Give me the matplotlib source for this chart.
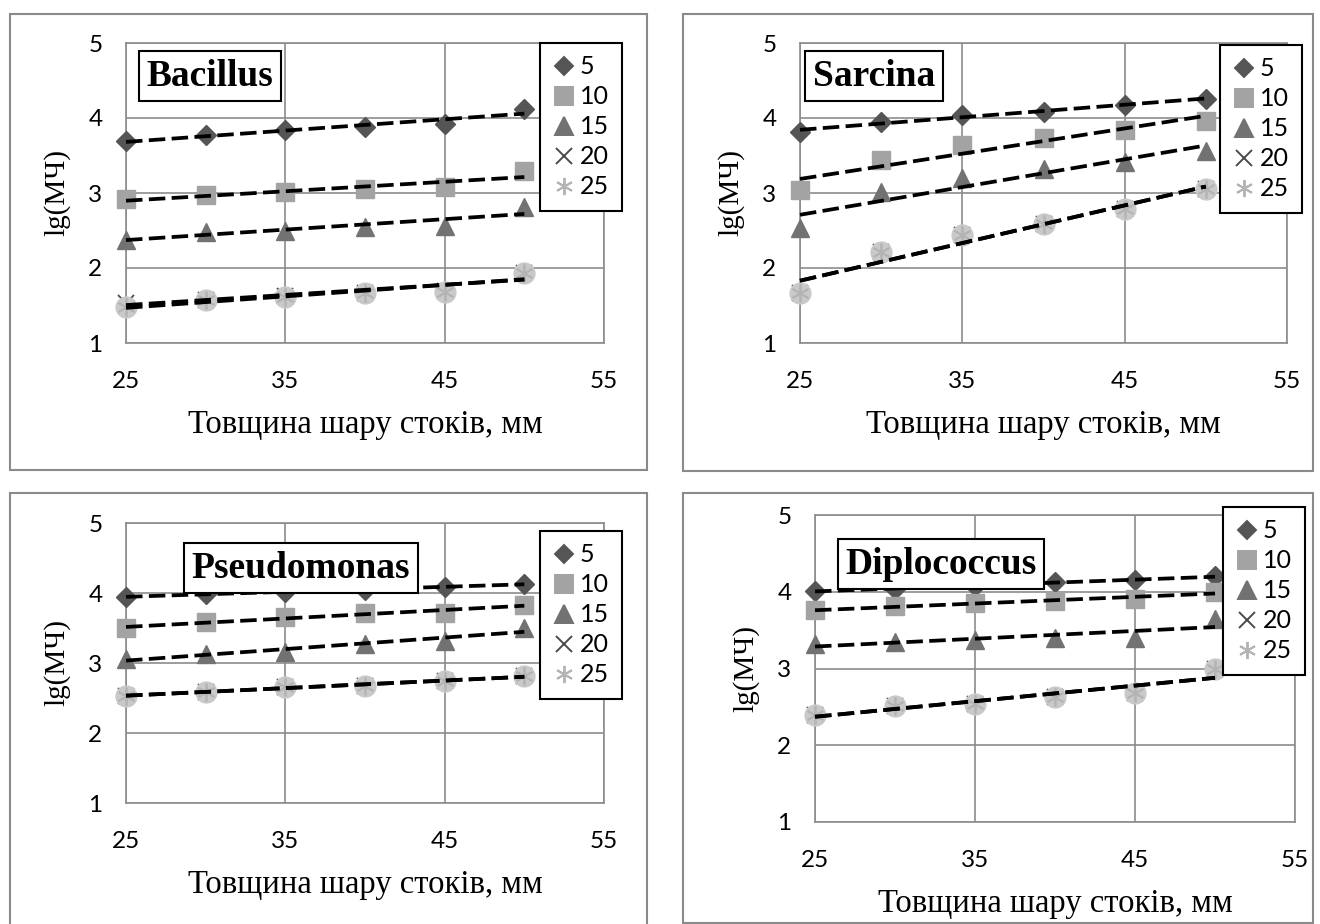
import matplotlib
matplotlib.use("Agg")
import matplotlib.pyplot as plt
from matplotlib.lines import Line2D
from matplotlib.patches import Rectangle
import numpy as np

# товщина шару стоків, мм
thickness = [25, 30, 35, 40, 45, 50]
doses = ["5", "10", "15", "20", "25"]

# lg(МЧ) для кожної дози (рядки: 5, 10, 15, 20, 25)
bacillus = [
    [3.69, 3.77, 3.84, 3.88, 3.92, 4.12],
    [2.92, 2.97, 3.02, 3.05, 3.08, 3.29],
    [2.38, 2.48, 2.50, 2.55, 2.56, 2.81],
    [1.54, 1.58, 1.63, 1.67, 1.69, 1.94],
    [1.48, 1.57, 1.62, 1.67, 1.68, 1.94],
]
sarcina = [
    [3.81, 3.95, 4.04, 4.08, 4.18, 4.25],
    [3.04, 3.44, 3.64, 3.73, 3.84, 3.96],
    [2.53, 3.01, 3.20, 3.32, 3.41, 3.56],
    [1.67, 2.21, 2.44, 2.59, 2.79, 3.05],
    [1.67, 2.21, 2.44, 2.59, 2.79, 3.05],
]
pseudomonas = [
    [3.94, 3.99, 4.02, 4.05, 4.08, 4.13],
    [3.50, 3.58, 3.66, 3.71, 3.72, 3.83],
    [3.06, 3.13, 3.16, 3.27, 3.32, 3.50],
    [2.53, 2.59, 2.66, 2.67, 2.75, 2.81],
    [2.53, 2.59, 2.66, 2.67, 2.75, 2.81],
]
diplococcus = [
    [4.01, 4.04, 4.07, 4.13, 4.15, 4.20],
    [3.76, 3.81, 3.85, 3.88, 3.91, 4.00],
    [3.32, 3.35, 3.37, 3.40, 3.40, 3.64],
    [2.40, 2.51, 2.54, 2.63, 2.68, 2.99],
    [2.40, 2.51, 2.54, 2.63, 2.68, 2.99],
]

W, H = 1320, 924
fig = plt.figure(figsize=(W / 100, H / 100), dpi=100)

SANS = ["Lato", "DejaVu Sans"]
SERIF = ["Liberation Serif", "DejaVu Serif"]
GRID = "#8c8c8c"


def fbox(x0, y0, x1, y1):
    return [x0 / W, 1 - y1 / H, (x1 - x0) / W, (y1 - y0) / H]


# (назва, дані, рамка панелі, область графіка, центр підпису, верх легенди)
panels = [
    ("Bacillus", bacillus, (10, 14, 647, 470), (126, 43, 604, 343), (210, 76), (540, 43)),
    ("Sarcina", sarcina, (683, 14, 1313, 471), (800, 43, 1287, 343), (874, 76), (1220, 45)),
    ("Pseudomonas", pseudomonas, (10, 493, 647, 940), (126, 523, 604, 803), (301, 568), (540, 531)),
    ("Diplococcus", diplococcus, (683, 493, 1313, 923), (815, 515, 1295, 822), (941, 564), (1223, 507)),
]

styles = [
    dict(marker="D", color="#555555", ms=10),
    dict(marker="s", color="#a3a3a3", ms=13),
    dict(marker="^", color="#727272", ms=13),
    dict(marker="x", color="#4a4a4a", ms=12),
    dict(marker=(6, 2, 0), color="#b4b4b4", ms=13),
]

x = np.array(thickness, dtype=float)

for name, data, frame, area, title_xy, leg_xy in panels:
    fig.patches.append(Rectangle((frame[0] / W, 1 - frame[3] / H),
                                 (frame[2] - frame[0]) / W, (frame[3] - frame[1]) / H,
                                 transform=fig.transFigure, fill=False,
                                 edgecolor="#8a8a8a", lw=1.5, zorder=0))
    ax = fig.add_axes(fbox(*area))
    ax.set_xlim(25, 55)
    ax.set_ylim(1, 5)
    ax.set_xticks([25, 35, 45, 55])
    ax.set_yticks([1, 2, 3, 4, 5])
    ax.grid(True, color=GRID, lw=1.2)
    ax.set_axisbelow(True)
    for s in ax.spines.values():
        s.set_color(GRID)
        s.set_linewidth(1.2)
    ax.tick_params(length=0, labelsize=17.5)
    ax.tick_params(axis="x", pad=20)
    ax.tick_params(axis="y", pad=17)
    for lbl in ax.get_xticklabels() + ax.get_yticklabels():
        lbl.set_family(SANS)

    handles = []
    for i, (vals, st) in enumerate(zip(data, styles)):
        y = np.array(vals)
        if i == 4:
            # світле коло під зірочкою
            ax.plot(x, y, ls="none", marker="o", ms=15, mfc="#c9c9c9",
                    mec="#c9c9c9", zorder=3, clip_on=False)
        if st["marker"] == "x" or i == 4:
            ax.plot(x, y, ls="none", marker=st["marker"], ms=st["ms"],
                    color=st["color"], mew=1.3, zorder=3, clip_on=False)
        else:
            ax.plot(x, y, ls="none", marker=st["marker"], ms=st["ms"],
                    mfc=st["color"], mec=st["color"], zorder=3, clip_on=False)
        handles.append(Line2D([], [], ls="none", marker=st["marker"],
                              ms=st["ms"] * 0.95, color=st["color"],
                              mfc=st["color"], mec=st["color"], mew=1.4,
                              label=doses[i]))

    # лінійні тренди
    for vals in data:
        k, b = np.polyfit(x, vals, 1)
        ax.plot(x[[0, -1]], k * x[[0, -1]] + b, color="black", lw=2.7,
                dashes=(4.4, 1.7), zorder=4, clip_on=False)

    ax.set_xlabel("Товщина шару стоків, мм", family=SERIF, fontsize=23.5,
                  labelpad=13)
    ax.set_ylabel("lg(МЧ)", family=SERIF, fontsize=21, labelpad=13)

    fig.text(title_xy[0] / W, 1 - title_xy[1] / H, name, family=SERIF,
             fontsize=27, weight="bold", ha="center", va="center",
             bbox=dict(boxstyle="square,pad=0.2", fc="white", ec="black", lw=1.5),
             zorder=6)

    leg = ax.legend(handles=handles, loc="upper left",
                    bbox_to_anchor=(leg_xy[0] / W, 1 - leg_xy[1] / H),
                    bbox_transform=fig.transFigure, frameon=True,
                    fancybox=False, framealpha=1, edgecolor="black",
                    handlelength=0.9, handletextpad=0.2, borderpad=0.5,
                    labelspacing=0.28, borderaxespad=0,
                    prop={"family": SANS, "size": 18})
    leg.get_frame().set_linewidth(1.5)
    leg.set_zorder(6)

fig.savefig("out.png", dpi=100)
